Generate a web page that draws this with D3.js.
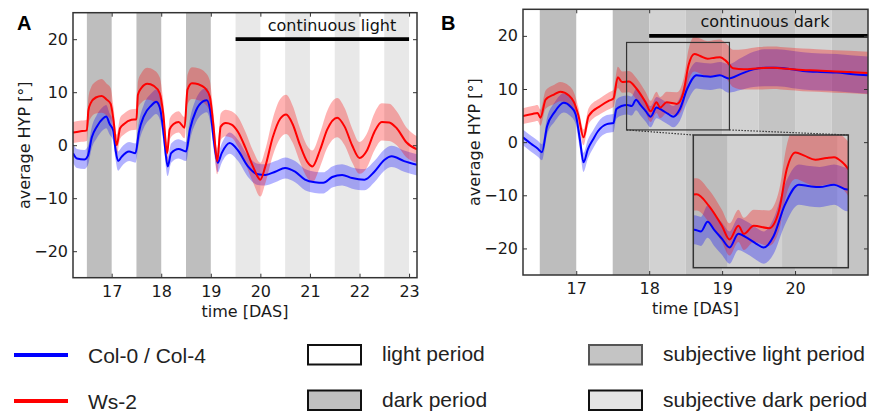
<!DOCTYPE html>
<html>
<head>
<meta charset="utf-8">
<script src="https://cdn.jsdelivr.net/npm/d3@7"></script>
<style>
  body { margin: 0; background: #fff; }
  svg { display: block; }
</style>
</head>
<body>
<svg id="chart" width="882" height="413"></svg>
<script>
// [time (DAS), mean HYP, spread]
const colA = [
  [16.22,-1.5,1.8],[16.30,-2.5,1.8],[16.45,-2.7,1.8],[16.52,-2.0,1.8],[16.60,1.5,2.0],
  [16.70,3.5,2.2],[16.82,5.0,2.2],[16.89,5.4,2.2],[16.96,4.0,2.0],[17.03,2.8,2.0],
  [17.08,-1.0,1.8],[17.13,-3.0,1.8],[17.20,-2.2,1.8],[17.35,-1.2,1.8],[17.48,-1.5,1.8],
  [17.55,2.5,2.0],[17.65,5.5,2.2],[17.80,7.5,2.3],[17.90,8.2,2.3],[17.98,6.8,2.2],
  [18.05,2.0,2.0],[18.13,-4.0,1.8],[18.20,-1.5,1.8],[18.35,-0.7,1.8],[18.50,-1.2,1.8],
  [18.58,3.0,2.0],[18.70,6.5,2.2],[18.85,8.3,2.3],[18.92,8.5,2.3],[18.99,6.5,2.2],
  [19.06,1.0,2.0],[19.14,-3.3,1.8],[19.22,-1.5,1.8],[19.38,0.4,2.0],[19.55,-1.0,2.0],
  [19.75,-4.0,2.0],[19.95,-5.5,2.0],[20.10,-5.6,2.0],[20.30,-5.0,2.0],[20.50,-4.3,2.0],
  [20.70,-5.0,2.0],[20.90,-6.5,2.0],[21.10,-7.0,2.0],[21.27,-7.1,2.0],[21.45,-6.0,2.0],
  [21.65,-5.6,2.0],[21.85,-6.2,2.0],[22.10,-6.5,2.0],[22.30,-5.0,2.0],[22.50,-2.8,2.0],
  [22.65,-2.1,2.0],[22.90,-3.0,2.0],[23.16,-3.7,2.0]
];
const wsA = [
  [16.22,2.4,2.0],[16.35,2.6,2.0],[16.50,2.8,2.0],[16.53,6.5,2.5],[16.58,8.0,2.8],
  [16.68,9.0,3.0],[16.80,9.3,3.2],[16.90,8.6,3.0],[16.98,7.8,3.0],[17.04,4.5,2.5],
  [17.10,0.0,2.0],[17.17,3.2,2.0],[17.25,4.0,2.0],[17.40,4.8,2.0],[17.50,4.9,2.0],
  [17.53,9.5,2.5],[17.60,10.8,2.8],[17.72,11.6,3.0],[17.85,11.2,3.0],[17.97,9.8,3.0],
  [18.04,6.0,2.5],[18.12,-1.5,2.0],[18.17,3.0,2.0],[18.25,4.0,2.0],[18.35,4.4,2.0],
  [18.47,3.3,2.0],[18.53,10.5,2.8],[18.62,11.7,3.0],[18.75,11.5,3.0],[18.88,10.8,3.0],
  [18.98,9.2,3.0],[19.05,4.0,2.5],[19.13,-3.0,2.5],[19.20,3.5,2.5],[19.30,4.2,2.5],
  [19.42,3.9,2.5],[19.55,2.5,2.8],[19.70,-0.5,3.0],[19.85,-4.0,3.0],[20.00,-6.5,3.2],
  [20.10,-4.0,3.2],[20.25,1.5,3.5],[20.40,5.0,3.7],[20.52,5.8,3.7],[20.65,4.0,3.5],
  [20.80,0.0,3.2],[20.95,-3.2,3.0],[21.05,-4.0,3.0],[21.20,-1.0,3.2],[21.35,3.0,3.5],
  [21.55,5.2,3.7],[21.70,3.5,3.5],[21.85,0.0,3.2],[22.00,-2.4,3.0],[22.15,-1.0,3.2],
  [22.30,2.5,3.5],[22.45,4.4,3.5],[22.60,4.3,3.5],[22.75,3.2,3.2],[22.95,0.5,2.8],
  [23.16,-0.8,2.5]
];
const colB = [
  [16.27,0.9,1.5],[16.38,-0.3,1.5],[16.47,-1.2,1.5],[16.53,-1.9,1.5],[16.60,3.0,1.6],
  [16.70,5.6,1.8],[16.83,7.4,1.8],[16.92,6.7,1.8],[16.99,5.3,1.8],[17.05,0.5,1.8],
  [17.10,-3.8,1.8],[17.16,-1.3,1.8],[17.23,0.5,1.7],[17.30,2.1,1.7],[17.42,3.4,1.7],
  [17.51,3.6,1.7],[17.55,6.2,1.8],[17.62,6.8,1.8],[17.70,7.0,1.8],[17.76,6.8,1.8],
  [17.82,8.0,2.0],[17.88,7.0,2.0],[17.95,5.9,2.0],[18.02,4.8,2.0],[18.10,6.5,2.0],
  [18.18,6.0,2.0],[18.26,5.3,2.0],[18.33,4.8,2.0],[18.42,6.2,2.2],[18.52,10.0,2.5],
  [18.65,12.6,2.5],[18.75,12.4,2.5],[18.84,12.3,2.5],[18.97,12.6,2.5],[19.09,12.0,2.7],
  [19.25,12.8,3.0],[19.43,13.7,3.3],[19.60,14.0,3.5],[19.75,14.0,3.5],[19.95,13.7,3.5],
  [20.11,13.4,3.5],[20.35,13.2,3.5],[20.57,13.1,3.5],[20.80,12.8,3.5],[21.00,12.6,3.5]
];
const wsB = [
  [16.27,4.9,1.5],[16.40,5.3,1.5],[16.47,5.5,1.5],[16.51,4.6,1.5],[16.58,8.0,1.7],
  [16.70,9.0,1.8],[16.78,9.5,1.8],[16.90,8.8,1.8],[16.97,7.5,1.8],[17.03,5.0,1.5],
  [17.10,0.9,1.5],[17.17,4.9,1.5],[17.33,6.8,1.5],[17.45,7.8,1.6],[17.51,8.2,1.6],
  [17.57,12.2,2.0],[17.63,11.3,2.0],[17.72,11.4,2.0],[17.83,10.0,2.0],[17.95,7.5,2.0],
  [18.02,5.8,2.0],[18.10,7.5,2.0],[18.15,6.5,2.0],[18.24,7.5,2.0],[18.38,7.2,2.2],
  [18.47,9.4,2.5],[18.54,14.5,3.0],[18.62,16.6,3.3],[18.70,16.2,3.3],[18.80,15.7,3.3],
  [18.90,15.9,3.3],[18.97,16.0,3.3],[19.06,15.2,3.3],[19.15,13.9,3.5],[19.30,13.7,3.8],
  [19.50,13.9,4.0],[19.70,14.0,4.0],[19.90,13.8,4.0],[20.10,13.6,4.0],[20.30,13.5,4.0],
  [20.55,13.3,4.0],[20.75,13.2,4.0],[21.00,13.0,4.0]
];

// [from, to, kind]
const periodsA = [
  [16.5,17,'dark'],[17.5,18,'dark'],[18.5,19,'dark'],
  [19.5,20,'subjDark'],[20.5,21,'subjDark'],[21.5,22,'subjDark'],[22.5,23,'subjDark']
];
const periodsB = [
  [16.5,17,'dark'],[17.5,18,'dark'],
  [18,18.5,'subjLight'],[18.5,19,'subjDark'],[19,19.5,'subjLight'],
  [19.5,20,'subjDark'],[20,20.5,'subjLight'],[20.5,21,'subjDark']
];

const xTicksA = [17, 18, 19, 20, 21, 22, 23];
const xTicksB = [17, 18, 19, 20];
const yTicks = [-20, -10, 0, 10, 20];
const seriesNames = ['Col-0 / Col-4', 'Ws-2'];
const periodNames = ['light period', 'dark period', 'subjective light period', 'subjective dark period'];

const svg = d3.select('#chart');
const tickFont = 'DejaVu Sans, sans-serif';
const fmt = d3.format('d');

function drawBands(g, x, y, periods, colors) {
  g.selectAll(null)
    .data(periods)
    .enter().append('rect')
    .attr('x', d => x(d[0]))
    .attr('width', d => x(d[1]) - x(d[0]))
    .attr('y', y.range()[1])
    .attr('height', y.range()[0] - y.range()[1])
    .attr('fill', d => colors[d[2]]);
}

function drawSeries(g, x, y, series, color) {
  const area = d3.area()
    .x(d => x(d[0]))
    .y0(d => y(d[1] - d[2]))
    .y1(d => y(d[1] + d[2]))
    .curve(d3.curveMonotoneX);
  g.append('path')
    .attr('d', area(series))
    .attr('fill', color)
    .attr('fill-opacity', 0.3);
}

function drawLine(g, x, y, series, color) {
  const line = d3.line()
    .x(d => x(d[0]))
    .y(d => y(d[1]))
    .curve(d3.curveMonotoneX);
  g.append('path')
    .attr('d', line(series))
    .attr('fill', 'none')
    .attr('stroke', color)
    .attr('stroke-width', 2);
}

function drawPanel(p) {
  const x = d3.scaleLinear().domain(p.xDomain).range([p.left, p.right]);
  const y = d3.scaleLinear().domain([-25, 25]).range([p.bottom, p.top]);

  svg.append('clipPath').attr('id', p.id + '-clip')
    .append('rect')
    .attr('x', p.left).attr('y', p.top)
    .attr('width', p.right - p.left).attr('height', p.bottom - p.top);

  const g = svg.append('g').attr('clip-path', `url(#${p.id}-clip)`);
  g.append('rect')
    .attr('x', p.left).attr('y', p.top)
    .attr('width', p.right - p.left).attr('height', p.bottom - p.top)
    .attr('fill', '#fff');
  drawBands(g, x, y, p.periods, p.colors);
  drawSeries(g, x, y, p.col, '#0000ff');
  drawSeries(g, x, y, p.ws, '#ff0000');
  drawLine(g, x, y, p.col, '#0000ff');
  drawLine(g, x, y, p.ws, '#ff0000');

  // black bar for the constant condition
  g.append('line')
    .attr('x1', x(p.barFrom)).attr('x2', x(p.barTo))
    .attr('y1', y(20)).attr('y2', y(20))
    .attr('stroke', '#000').attr('stroke-width', 3.8);
  svg.append('text')
    .attr('x', p.barLabelX).attr('y', p.barLabelY)
    .attr('text-anchor', 'middle')
    .attr('font-family', tickFont).attr('font-size', 16).attr('fill', '#111')
    .text(p.barLabel);

  // axes, ticks pointing inward on all sides
  const axes = [
    [d3.axisBottom(x).tickValues(p.xTicks).tickFormat(fmt).tickPadding(8), `translate(0,${p.bottom})`],
    [d3.axisLeft(y).tickValues(yTicks).tickFormat(fmt).tickPadding(5), `translate(${p.left},0)`],
    [d3.axisTop(x).tickValues(p.xTicks).tickFormat(''), `translate(0,${p.top})`],
    [d3.axisRight(y).tickValues(yTicks).tickFormat(''), `translate(${p.right},0)`]
  ];
  axes.forEach(([axis, tr]) => {
    const a = svg.append('g')
      .attr('transform', tr)
      .call(axis.tickSizeInner(-4).tickSizeOuter(0))
      .attr('font-family', tickFont)
      .attr('font-size', 16);
    a.select('.domain').remove();
    a.selectAll('line').attr('stroke', '#333');
    a.selectAll('text').attr('fill', '#1a1a1a');
  });

  svg.append('rect')
    .attr('x', p.left).attr('y', p.top)
    .attr('width', p.right - p.left).attr('height', p.bottom - p.top)
    .attr('fill', 'none').attr('stroke', '#333').attr('stroke-width', 1.5);

  svg.append('text')
    .attr('x', (p.left + p.right) / 2).attr('y', p.bottom + 39)
    .attr('text-anchor', 'middle')
    .attr('font-family', tickFont).attr('font-size', 16).attr('fill', '#1a1a1a')
    .text('time [DAS]');
  svg.append('text')
    .attr('transform', `translate(${p.left - 43},${(p.top + p.bottom) / 2}) rotate(-90)`)
    .attr('text-anchor', 'middle')
    .attr('font-family', tickFont).attr('font-size', 16).attr('fill', '#1a1a1a')
    .text('average HYP [°]');
  svg.append('text')
    .attr('x', p.letterX).attr('y', 30)
    .attr('font-family', 'Liberation Sans, Arial, sans-serif')
    .attr('font-weight', 'bold').attr('font-size', 20)
    .text(p.id.toUpperCase());

  return { x, y };
}

drawPanel({
  id: 'a', left: 73, right: 417, top: 12.7, bottom: 277.7,
  xDomain: [16.22, 23.16], xTicks: xTicksA,
  periods: periodsA,
  colors: { dark: '#bebebe', subjDark: '#e8e8e8', subjLight: '#ffffff' },
  col: colA, ws: wsA,
  barFrom: 19.5, barTo: 23, barLabel: 'continuous light', barLabelX: 332, barLabelY: 31,
  letterX: 17
});

const b = drawPanel({
  id: 'b', left: 523, right: 868, top: 9.3, bottom: 275,
  xDomain: [16.27, 21.0], xTicks: xTicksB,
  periods: periodsB,
  colors: { dark: '#bdbdbd', subjLight: '#d2d2d2', subjDark: '#c4c4c4' },
  col: colB, ws: wsB,
  barFrom: 18, barTo: 21, barLabel: 'continuous dark', barLabelX: 765, barLabelY: 27,
  letterX: 441
});

// inset: zoom of panel B
const zoomX = [17.69, 19.10];
const zoomY = [2.3, 18.76];
const inset = { left: 693.3, right: 848.3, top: 135, bottom: 267.7 };
const ix = d3.scaleLinear().domain(zoomX).range([inset.left, inset.right]);
const iy = d3.scaleLinear().domain(zoomY).range([inset.bottom, inset.top]);

svg.append('clipPath').attr('id', 'inset-clip')
  .append('rect')
  .attr('x', inset.left).attr('y', inset.top)
  .attr('width', inset.right - inset.left).attr('height', inset.bottom - inset.top);
const ig = svg.append('g').attr('clip-path', 'url(#inset-clip)');
drawBands(ig, ix, iy, periodsB, { dark: '#bdbdbd', subjLight: '#d2d2d2', subjDark: '#c4c4c4' });
drawSeries(ig, ix, iy, colB, '#0000ff');
drawSeries(ig, ix, iy, wsB, '#ff0000');
drawLine(ig, ix, iy, colB, '#0000ff');
drawLine(ig, ix, iy, wsB, '#ff0000');
svg.append('rect')
  .attr('x', inset.left).attr('y', inset.top)
  .attr('width', inset.right - inset.left).attr('height', inset.bottom - inset.top)
  .attr('fill', 'none').attr('stroke', '#333').attr('stroke-width', 1.5);

// marked region in the main plot and connectors
svg.append('rect')
  .attr('x', b.x(zoomX[0])).attr('y', b.y(zoomY[1]))
  .attr('width', b.x(zoomX[1]) - b.x(zoomX[0]))
  .attr('height', b.y(zoomY[0]) - b.y(zoomY[1]))
  .attr('fill', 'none').attr('stroke', '#333').attr('stroke-width', 1.2);
[[zoomX[0], inset.left], [zoomX[1], inset.right]].forEach(([zx, ex]) => {
  svg.append('line')
    .attr('x1', b.x(zx)).attr('y1', b.y(zoomY[0]))
    .attr('x2', ex).attr('y2', inset.top)
    .attr('stroke', '#333').attr('stroke-width', 1.2)
    .attr('stroke-dasharray', '1.5,1.5');
});

// legend
const legendFont = 'Liberation Sans, Arial, sans-serif';
const leg = svg.append('g')
  .attr('font-family', legendFont).attr('font-size', 21).attr('fill', '#222');

seriesNames.forEach((name, i) => {
  const cy = 355 + i * 46;
  leg.append('line')
    .attr('x1', 14).attr('x2', 68).attr('y1', cy).attr('y2', cy)
    .attr('stroke', i === 0 ? '#0000ff' : '#ff0000').attr('stroke-width', 4);
  leg.append('text').attr('x', 88).attr('y', cy + 8).text(name);
});

const swatch = [
  { fill: '#ffffff', stroke: '#111' },
  { fill: '#c0c0c0', stroke: '#111' },
  { fill: '#c4c4c4', stroke: '#555' },
  { fill: '#e4e4e4', stroke: '#111' }
];
periodNames.forEach((name, i) => {
  const col = Math.floor(i / 2), row = i % 2;
  const bx = col === 0 ? 308 : 589;
  const by = 345 + row * 45.5;
  leg.append('rect')
    .attr('x', bx).attr('y', by).attr('width', 53).attr('height', 19.5)
    .attr('fill', swatch[i].fill).attr('stroke', swatch[i].stroke).attr('stroke-width', 2);
  leg.append('text').attr('x', bx + 74).attr('y', by + 16).text(name);
});
</script>
</body>
</html>
